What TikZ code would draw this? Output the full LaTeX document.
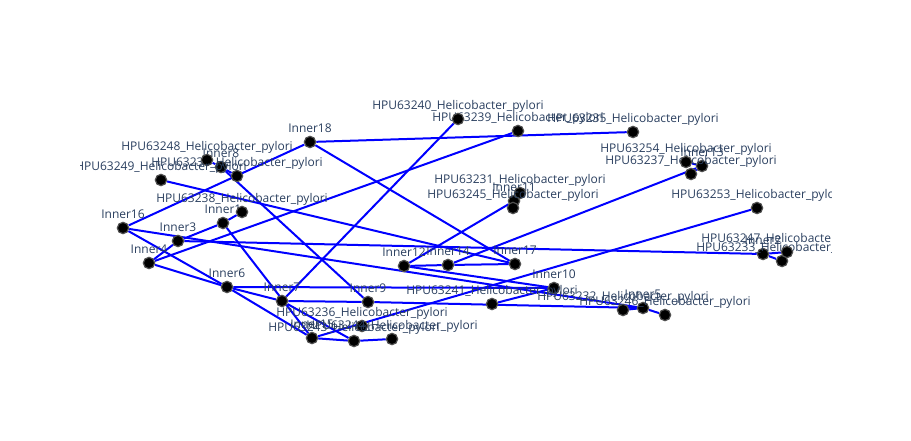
\documentclass[tikz,border=0pt]{standalone}
\usepackage{fontspec}
\setmainfont{Open Sans}
\usetikzlibrary{backgrounds}
\definecolor{lblgray}{HTML}{2A3F5F}
\definecolor{dotline}{HTML}{505050}

\begin{document}
\begin{tikzpicture}[x=0.75pt, y=-0.75pt,
    dot/.style={circle, fill=black, draw=dotline, line width=0.9pt, minimum size=8.5pt, inner sep=0pt, label distance=0.5pt},
    lbl/.style={text=lblgray, font=\fontsize{9}{10}\selectfont, inner sep=0.5pt, text depth=2pt},
    edge/.style={blue, line width=1.5pt}]
    \useasboundingbox (0,0) rectangle (911,441);
    \clip (80,0) rectangle (831,441);
    % inner nodes
    \node[dot, label={[lbl]above:Inner1}] (in1) at (223,223) {};
    \node[dot, label={[lbl]above:Inner2}] (in2) at (763,254) {};
    \node[dot, label={[lbl]above:Inner3}] (in3) at (178,241) {};
    \node[dot, label={[lbl]above:Inner4}] (in4) at (149,263) {};
    \node[dot, label={[lbl]above:Inner5}] (in5) at (643,308) {};
    \node[dot, label={[lbl]above:Inner6}] (in6) at (227,287) {};
    \node[dot, label={[lbl]above:Inner7}] (in7) at (282,301) {};
    \node[dot, label={[lbl]above:Inner8}] (in8) at (221,167) {};
    \node[dot, label={[lbl]above:Inner9}] (in9) at (368,302) {};
    \node[dot, label={[lbl]above:Inner10}] (in10) at (554,288) {};
    \node[dot, label={[lbl]above:Inner11}] (in11) at (514,201) {};
    \node[dot, label={[lbl]above:Inner12}] (in12) at (404,266) {};
    \node[dot, label={[lbl]above:Inner13}] (in13) at (702,166) {};
    \node[dot, label={[lbl]above:Inner14}] (in14) at (448,265) {};
    \node[dot, label={[lbl]above:Inner15}] (in15) at (312,338) {};
    \node[dot, label={[lbl]above:Inner16}] (in16) at (123,228) {};
    \node[dot, label={[lbl]above:Inner17}] (in17) at (515,264) {};
    \node[dot, label={[lbl]above:Inner18}] (in18) at (310,142) {};
    % leaves
    \node[dot, label={[lbl]above:HPU63231\_Helicobacter\_pylori}] (h31) at (520,193) {};
    \node[dot, label={[lbl]above:HPU63232\_Helicobacter\_pylori}] (h32) at (623,310) {};
    \node[dot, label={[lbl]above:HPU63233\_Helicobacter\_pylori}] (h33) at (782,261) {};
    \node[dot, label={[lbl]above:HPU63234\_Helicobacter\_pylori}] (h34) at (237,176) {};
    \node[dot, label={[lbl]above:HPU63235\_Helicobacter\_pylori}] (h35) at (633,132) {};
    \node[dot, label={[lbl]above:HPU63236\_Helicobacter\_pylori}] (h36) at (362,326) {};
    \node[dot, label={[lbl]above:HPU63237\_Helicobacter\_pylori}] (h37) at (691,174) {};
    \node[dot, label={[lbl]above:HPU63238\_Helicobacter\_pylori}] (h38) at (242,212) {};
    \node[dot, label={[lbl]above:HPU63239\_Helicobacter\_pylori}] (h39) at (518,131) {};
    \node[dot, label={[lbl]above:HPU63240\_Helicobacter\_pylori}] (h40) at (458,119) {};
    \node[dot, label={[lbl]above:HPU63241\_Helicobacter\_pylori}] (h41) at (492,304) {};
    \node[dot, label={[lbl]above:HPU63243\_Helicobacter\_pylori}] (h43) at (354,341) {};
    \node[dot, label={[lbl]above:HPU63244\_Helicobacter\_pylori}] (h44) at (392,339) {};
    \node[dot, label={[lbl]above:HPU63245\_Helicobacter\_pylori}] (h45) at (513,208) {};
    \node[dot, label={[lbl]above:HPU63246\_Helicobacter\_pylori}] (h46) at (665,315) {};
    \node[dot, label={[lbl]above:HPU63247\_Helicobacter\_pylori}] (h47) at (787,252) {};
    \node[dot, label={[lbl]above:HPU63248\_Helicobacter\_pylori}] (h48) at (207,160) {};
    \node[dot, label={[lbl]above:HPU63249\_Helicobacter\_pylori}] (h49) at (161,180) {};
    \node[dot, label={[lbl]above:HPU63253\_Helicobacter\_pylori}] (h53) at (757,208) {};
    \node[dot, label={[lbl]above:HPU63254\_Helicobacter\_pylori}] (h54) at (686,162) {};

    \begin{scope}[on background layer]
    \draw[edge] (in18) -- (h35);
    \draw[edge] (in18) -- (in17);
    \draw[edge] (in18) -- (in16);
    \draw[edge] (h40) -- (in7);
    \draw[edge] (h39) -- (in4);
    \draw[edge] (in3) -- (in2);
    \draw[edge] (in3) -- (in1);
    \draw[edge] (in4) -- (in3);
    \draw[edge] (in1) -- (h38);
    \draw[edge] (in1) -- (in15);
    \draw[edge] (in2) -- (h47);
    \draw[edge] (in2) -- (h33);
    \draw[edge] (in5) -- (h32);
    \draw[edge] (in5) -- (h46);
    \draw[edge] (in13) -- (h54);
    \draw[edge] (in13) -- (h37);
    \draw[edge] (in14) -- (in13);
    \draw[edge] (in11) -- (h31);
    \draw[edge] (in11) -- (h45);
    \draw[edge] (in12) -- (in11);
    \draw[edge] (in12) -- (in10);
    \draw[edge] (in12) -- (in14);
    \draw[edge] (in14) -- (in17);
    \draw[edge] (in10) -- (h41);
    \draw[edge] (in8) -- (h48);
    \draw[edge] (in8) -- (h34);
    \draw[edge] (in8) -- (in9);
    \draw[edge] (h49) -- (in17);
    \draw[edge] (in15) -- (h53);
    \draw[edge] (in15) -- (h43);
    \draw[edge] (h43) -- (h44);
    \draw[edge] (in7) -- (h43);
    \draw[edge] (in16) -- (in6);
    \draw[edge] (in16) -- (in5);
    \draw[edge] (in4) -- (in6);
    \draw[edge] (in6) -- (in7);
    \draw[edge] (in6) -- (in15);
    \draw[edge] (in6) -- (in10);
    \draw[edge] (in7) -- (in9);
    \draw[edge] (in9) -- (in5);
    \end{scope}
\end{tikzpicture}
\end{document}
